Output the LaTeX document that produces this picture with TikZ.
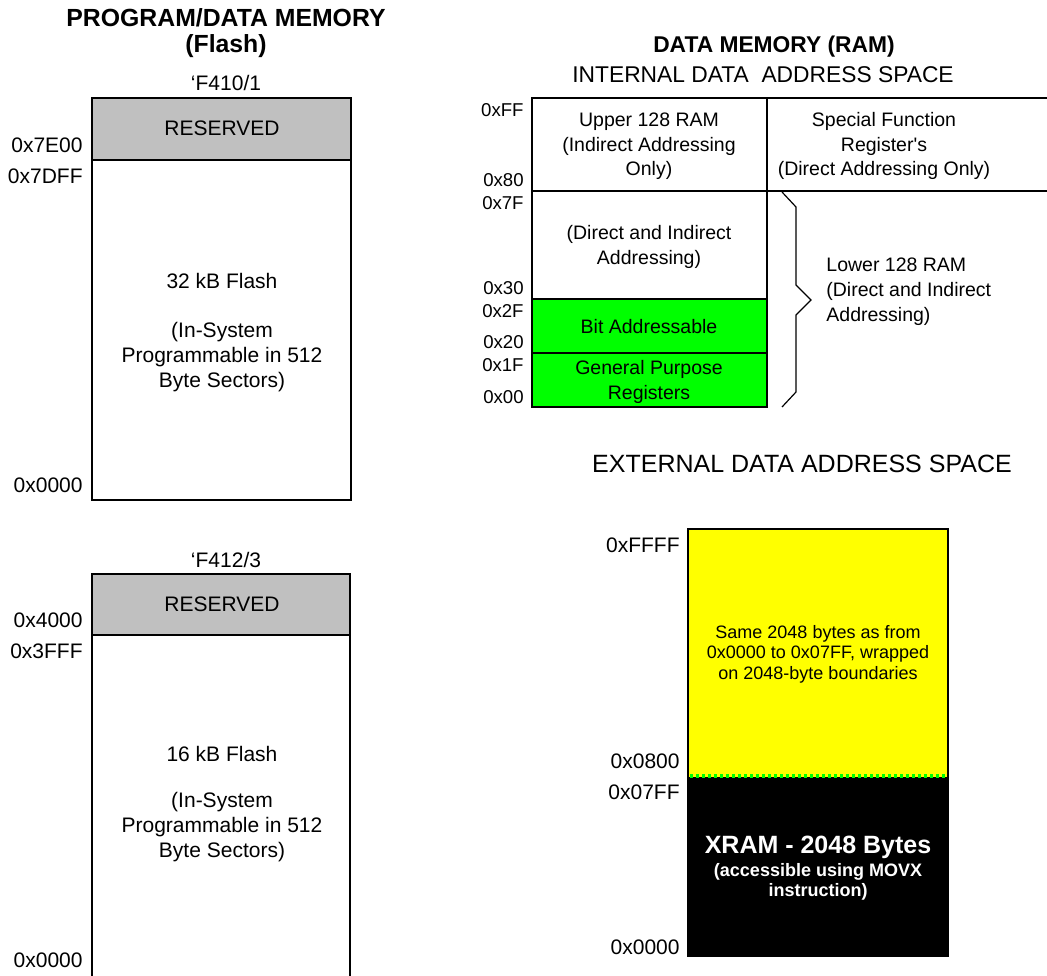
\documentclass[tikz,border=0pt]{standalone}
\usepackage{fontspec}
\setmainfont{Liberation Sans}
\usepackage{tikz}
\definecolor{resgray}{HTML}{C0C0C0}
\definecolor{bitgreen}{HTML}{00FF00}
\definecolor{wrapyellow}{HTML}{FFFF00}
\tikzset{box/.style={draw=black,line width=1pt},brace/.style={draw=black,line width=.6pt},wrapline/.style={draw=bitgreen,line width=1.6pt,dash pattern=on 1.6pt off 1.4pt},lbl/.style={inner sep=0pt,anchor=base},addr/.style={inner sep=0pt,anchor=base east},fl/.style={font=\fontsize{10.5}{12.5}\selectfont},ram/.style={font=\fontsize{9.75}{12}\selectfont},ramaddr/.style={font=\fontsize{9.3}{11}\selectfont},sm/.style={font=\fontsize{9}{10.3}\selectfont},ttl/.style={font=\bfseries\fontsize{12.4}{14}\selectfont},ramttl/.style={font=\bfseries\fontsize{11.4}{13}\selectfont},intfont/.style={font=\fontsize{11.4}{13}\selectfont},extfont/.style={font=\fontsize{12.5}{14}\selectfont},xttl/.style={font=\bfseries\fontsize{12.5}{14}\selectfont},xsub/.style={font=\bfseries\fontsize{9}{10.3}\selectfont}}

\begin{document}
\begin{tikzpicture}[x=.5pt,y=-.5pt]
 \useasboundingbox (0,0) rectangle (1047,975);
 % program memory, 'F410/1
 \node[lbl,ttl] (progttl) at (226,26) {PROGRAM/DATA MEMORY};
 \node[lbl,ttl] (flashttl) at (226,52) {(Flash)};
 \node[lbl,fl] (fzero) at (226,90) {‘F410/1};
 \fill[resgray] (92,98) rectangle (351,160); \draw[box] (92,98) rectangle (351,500); \draw[box] (92,160)--(351,160);
 \node[lbl,fl] (reszero) at (222,135) {RESERVED};
 \foreach \n/\y/\txt in {a/288/32 kB Flash,b/337/{(In-System},c/362/Programmable in 512,d/387/{Byte Sectors)}}{\node[lbl,fl] (big\n) at (222,\y) {\txt};}
 \foreach \n/\y/\txt in {a/152/0x7E00,b/183/0x7DFF,c/492/0x0000}{\node[addr,fl] (fa\n) at (83,\y) {\txt};}
 % program memory, 'F412/3
 \node[lbl,fl] (ftwo) at (226,567) {‘F412/3};
 \fill[resgray] (92,574) rectangle (350,635); \draw[box] (92,990)--(92,574)--(350,574)--(350,990); \draw[box] (92,635)--(350,635);
 \node[lbl,fl] (restwo) at (222,611) {RESERVED};
 \foreach \n/\y/\txt in {a/761/16 kB Flash,b/807/{(In-System},c/832/Programmable in 512,d/857/{Byte Sectors)}}{\node[lbl,fl] (small\n) at (222,\y) {\txt};}
 \foreach \n/\y/\txt in {a/627/0x4000,b/658/0x3FFF,c/967/0x0000}{\node[addr,fl] (fb\n) at (83,\y) {\txt};}
 % internal data memory
 \node[lbl,ramttl] (datattl) at (774,52) {DATA MEMORY (RAM)};
 \node[lbl,intfont] (intttl) at (763,82) {INTERNAL DATA\ \ ADDRESS SPACE};
 \fill[bitgreen] (532,299) rectangle (767,407);
 \draw[box] (1060,98)--(532,98)--(532,407)--(767,407)--(767,98); \draw[box] (532,191)--(1060,191); \draw[box] (532,299)--(767,299); \draw[box] (532,353)--(767,353);
 \draw[brace] (782,192)--(796,207)--(796,285)--(811,300)--(796,315)--(796,392)--(782,407);
 \foreach \n/\x/\y/\txt in {a/649/126/Upper 128 RAM,b/649/151/{(Indirect Addressing},c/649/175/{Only)},d/884/126/Special Function,e/884/151/Register\textquotesingle s,f/884/175/{(Direct Addressing Only)},g/649/239/{(Direct and Indirect},h/649/264/{Addressing)},i/649/333/Bit Addressable,j/649/374/General Purpose,k/649/399/Registers}{\node[lbl,ram] (ram\n) at (\x,\y) {\txt};}
 \foreach \n/\y/\txt in {a/271/Lower 128 RAM,b/296/{(Direct and Indirect},c/321/{Addressing)}}{\node[lbl,ram,anchor=base west] (low\n) at (826,\y) {\txt};}
 \foreach \n/\y/\txt in {a/116/0xFF,b/186/0x80,c/209/0x7F,d/294/0x30,e/317/0x2F,f/348/0x20,g/371/0x1F,h/403/0x00}{\node[addr,ramaddr] (ia\n) at (524,\y) {\txt};}
 % external data memory
 \node[lbl,extfont] (extttl) at (802,472) {EXTERNAL DATA ADDRESS SPACE};
 \fill[wrapyellow] (688,529) rectangle (948,777); \fill[black] (688,777) rectangle (948,956); \draw[box] (688,529) rectangle (948,956);
 \draw[wrapline] (690,776)--(946,776);
 \foreach \n/\y/\txt in {a/638/Same 2048 bytes as from,b/658/{0x0000 to 0x07FF, wrapped},c/679/on 2048-byte boundaries}{\node[lbl,sm] (wrap\n) at (818,\y) {\txt};}
 \node[lbl,xttl,text=white] (xram) at (818,853) {XRAM - 2048 Bytes};
 \node[lbl,xsub,text=white] (xsuba) at (818,876) {(accessible using MOVX};
 \node[lbl,xsub,text=white] (xsubb) at (818,896) {instruction)};
 \foreach \n/\y/\txt in {a/552/0xFFFF,b/768/0x0800,c/799/0x07FF,d/954/0x0000}{\node[addr,fl] (ea\n) at (680,\y) {\txt};}
\end{tikzpicture}
\end{document}
